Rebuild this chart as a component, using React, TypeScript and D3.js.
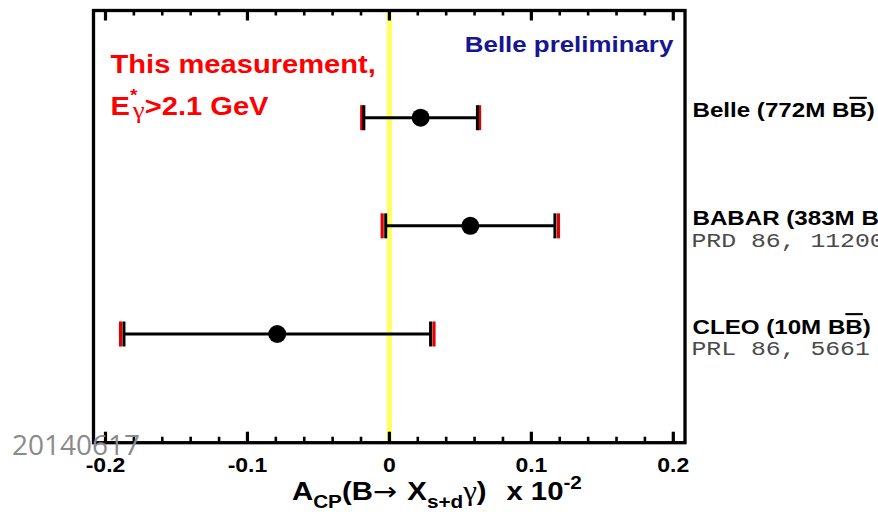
import React from "react";
import * as d3 from "d3";

// ---- data ----
const experiments = ["Belle", "BABAR", "CLEO"];
const labels = ["Belle (772M B", "BABAR (383M B", "CLEO (10M B"];
const references = ["", "PRD 86, 112008 (2012)", "PRL 86, 5661 (2001)"];
const centralValues = [0.022, 0.057, -0.079];
const statErrors = [0.04, 0.0596, 0.108];
const totalErrors = [0.0415, 0.0621, 0.1104];
const tickLabels = ["-0.2", "-0.1", "0", "0.1", "0.2"];
const majorTicks = [-0.2, -0.1, 0, 0.1, 0.2];
const minorTicks = d3.range(-20, 21, 2).map((d) => d / 100);

const W = 878;
const H = 517;
const frame = { left: 93.5, right: 685, top: 10.5, bottom: 442.7 };
const SX = 1.15;

const x = d3.scaleLinear().domain([-0.2, 0.2]).range([105.5, 673.3]);
const y = d3.scalePoint<string>().domain(experiments).range([117.7, 334]);

const sans = "'Liberation Sans', Arial, sans-serif";
const serif = "'Liberation Serif', 'Times New Roman', serif";
const mono = "'Liberation Mono', 'Courier New', monospace";

function T({ x, y, sx = SX, children, ...rest }: any) {
  return (
    <text transform={`translate(${x},${y}) scale(${sx},1)`} {...rest}>
      {children}
    </text>
  );
}

export default function App() {
  const capH = 12.5;
  return (
    <svg
      width={W}
      height={H}
      style={{ position: "absolute", left: 0, top: 0, display: "block", background: "#fff" }}
    >
      {/* yellow zero line */}
      <line x1={x(0)} x2={x(0)} y1={frame.top} y2={frame.bottom} stroke="#ffff66" strokeWidth={5.5} />

      {/* ticks */}
      {minorTicks.map((t, i) => {
        const major = majorTicks.some((m) => Math.abs(m - t) < 1e-9);
        return (
          <g key={i} stroke="#000" strokeWidth={major ? 3.2 : 2.6}>
            <line x1={x(t)} x2={x(t)} y1={frame.bottom} y2={frame.bottom - (major ? 11 : 6)} />
            <line x1={x(t)} x2={x(t)} y1={frame.top} y2={frame.top + (major ? 10 : 5)} />
          </g>
        );
      })}

      {/* frame */}
      <rect
        x={frame.left}
        y={frame.top}
        width={frame.right - frame.left}
        height={frame.bottom - frame.top}
        fill="none"
        stroke="#000"
        strokeWidth={3.3}
      />

      {/* error bars */}
      {experiments.map((e, i) => {
        const cy = y(e)!;
        const v = centralValues[i];
        const s = statErrors[i];
        const t = totalErrors[i];
        return (
          <g key={e}>
            <line x1={x(v - t)} x2={x(v - t)} y1={cy - capH} y2={cy + capH} stroke="#e00000" strokeWidth={3.2} />
            <line x1={x(v + t)} x2={x(v + t)} y1={cy - capH} y2={cy + capH} stroke="#e00000" strokeWidth={3.2} />
            <line x1={x(v - s)} x2={x(v + s)} y1={cy} y2={cy} stroke="#000" strokeWidth={3} />
            <line x1={x(v - s)} x2={x(v - s)} y1={cy - capH} y2={cy + capH} stroke="#000" strokeWidth={3} />
            <line x1={x(v + s)} x2={x(v + s)} y1={cy - capH} y2={cy + capH} stroke="#000" strokeWidth={3} />
            <circle cx={x(v)} cy={cy} r={9} fill="#000" />
          </g>
        );
      })}

      {/* tick labels */}
      {majorTicks.map((t, i) => (
        <T key={i} x={x(t)} y={471.7} textAnchor="middle" fontFamily={sans} fontWeight="bold" fontSize={20} fill="#000">
          {tickLabels[i]}
        </T>
      ))}

      {/* axis title */}
      <T x={292} y={500} sx={1.15} fontFamily={sans} fontWeight="bold" fontSize={25.5} fill="#000" style={{ whiteSpace: "pre" }}>
        <tspan>A</tspan>
        <tspan fontSize={18} dy={8}>CP</tspan>
        <tspan dy={-8}>(B</tspan>
        <tspan fontWeight="normal" fontFamily="'DejaVu Sans', sans-serif" fontSize={25}>{"\u2192"}</tspan>
        <tspan dx={2}>{" X"}</tspan>
        <tspan fontSize={18} dy={8}>s+d</tspan>
        <tspan dy={-8} fontFamily={serif} fontWeight="normal" fontSize={27}>γ</tspan>
        <tspan>{")  "}</tspan>
        <tspan dx={3}>{"x 10"}</tspan>
        <tspan fontSize={18} dy={-11}>-2</tspan>
      </T>

      {/* in-frame annotations */}
      <T x={110.5} y={73} sx={1.12} fontFamily={sans} fontWeight="bold" fontSize={26} fill="#ff0000">
        This measurement,
      </T>
      <T x={110.5} y={115} sx={1.12} fontFamily={sans} fontWeight="bold" fontSize={26} fill="#ff0000">
        <tspan>E</tspan>
        <tspan fontSize={17} dy={-14}>*</tspan>
        <tspan fontSize={24} dx={-4} dy={17} fontFamily={serif} fontWeight="normal">γ</tspan>
        <tspan dy={-3}>{">2.1 GeV"}</tspan>
      </T>
      <T x={673.3} y={51.7} textAnchor="end" fontFamily={sans} fontWeight="bold" fontSize={22.5} fill="#161690">
        Belle preliminary
      </T>

      {/* experiment labels */}
      {experiments.map((e, i) => {
        const cy = y(e)!;
        return (
          <g key={e}>
            <T x={692.5} y={cy - 0.5} fontFamily={sans} fontWeight="bold" fontSize={21} fill="#000">
              <tspan>{labels[i]}</tspan>
              <tspan style={{ textDecoration: "overline", textDecorationThickness: "2.5px" }}>B</tspan>
              <tspan>)</tspan>
            </T>
            {references[i] && (
              <T x={691.5} y={cy + 21} sx={1.18} fontFamily={mono} fontSize={21} fill="#4a4a4a">
                {references[i]}
              </T>
            )}
          </g>
        );
      })}

      {/* date stamp */}
      <text x={12} y={455} fontFamily="'Open Sans', sans-serif" fontSize={28} fill="#8a8a8a">
        20140617
      </text>
    </svg>
  );
}
